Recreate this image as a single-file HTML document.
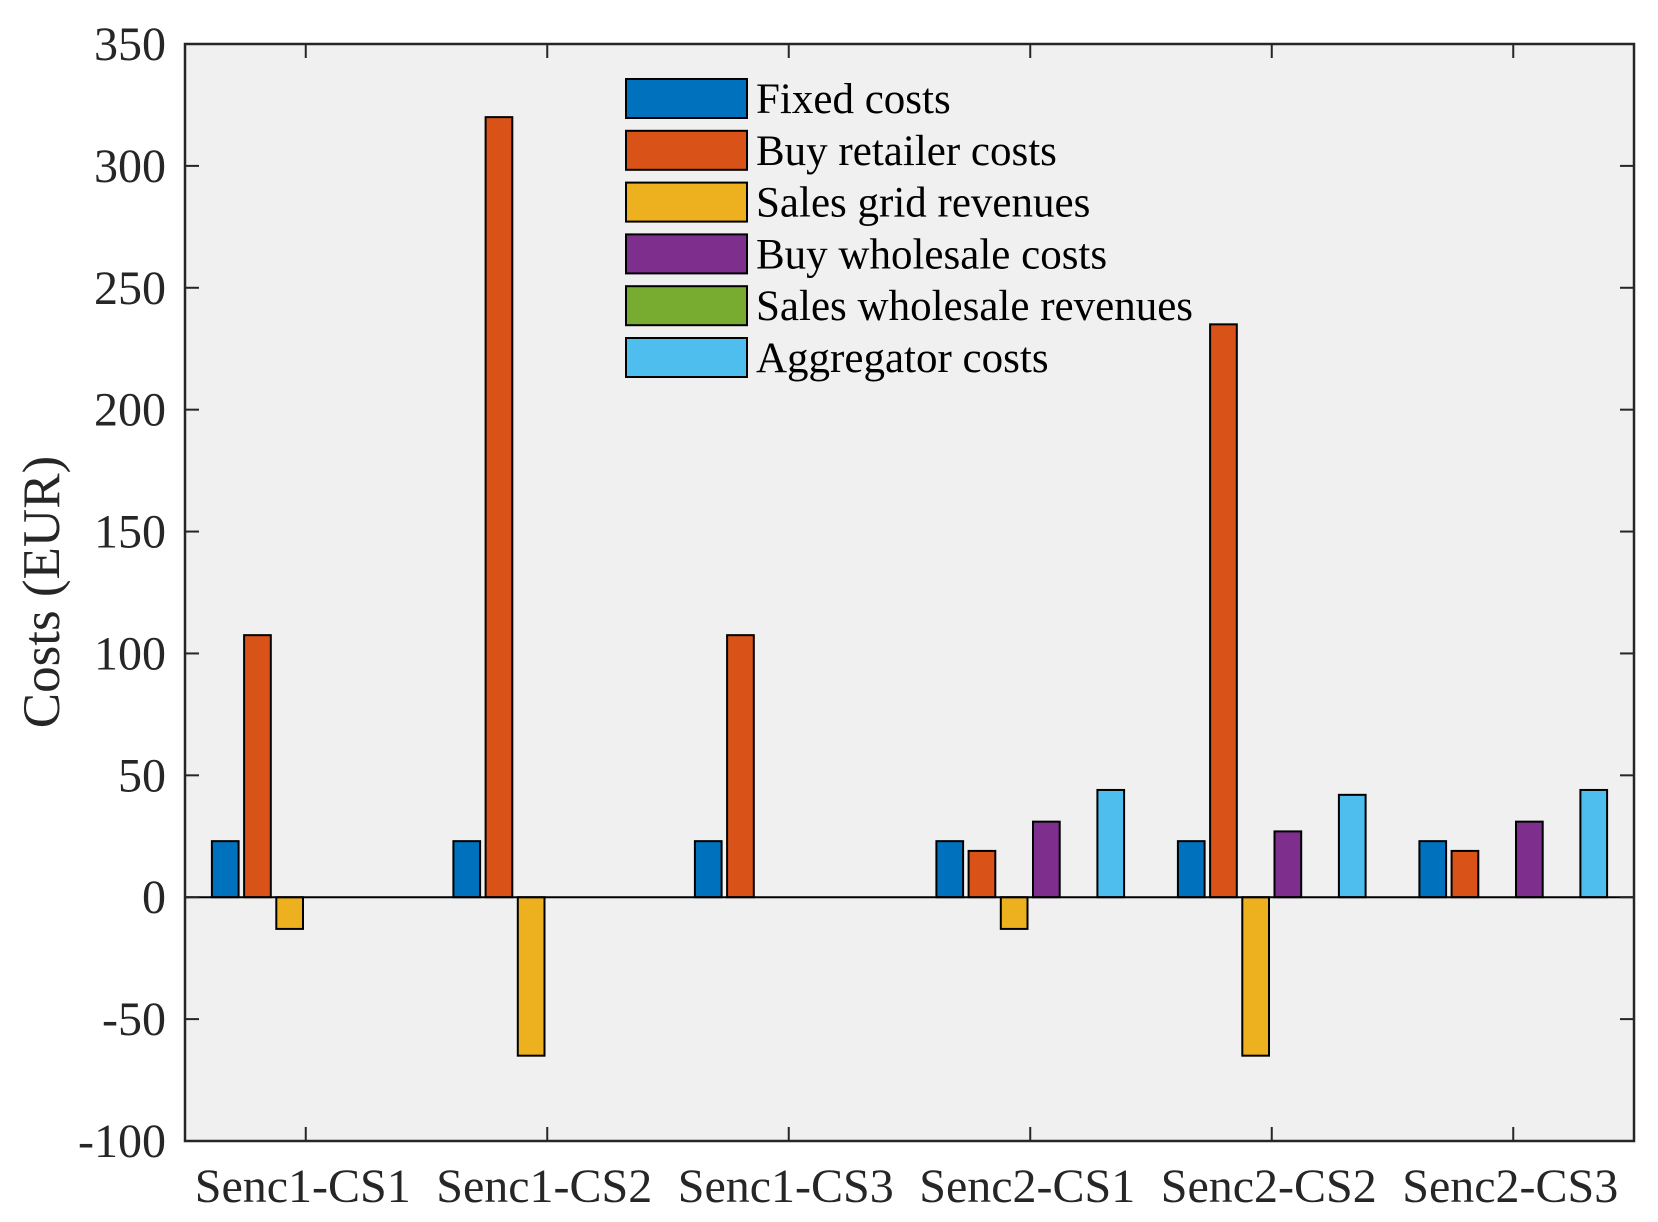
<!DOCTYPE html>
<html><head><meta charset="utf-8"><style>
html,body{margin:0;padding:0;background:#fff}
svg{display:block;font-family:"Liberation Serif",serif}
</style></head><body>
<svg id="chart" width="1658" height="1222" viewBox="0 0 1658 1222" xmlns="http://www.w3.org/2000/svg">
<rect x="185" y="44" width="1449" height="1097" fill="#f0f0f0"/>
<g id="bars"></g>
<g id="axes"></g>
<g id="legend"></g>
<text transform="translate(59,592) rotate(-90)" text-anchor="middle" font-size="53" fill="#262626">Costs (EUR)</text>
</svg>
<script>
const categories = ["Senc1-CS1","Senc1-CS2","Senc1-CS3","Senc2-CS1","Senc2-CS2","Senc2-CS3"];
const seriesNames = ["Fixed costs","Buy retailer costs","Sales grid revenues","Buy wholesale costs","Sales wholesale revenues","Aggregator costs"];
const fixedCosts = [23,23,23,23,23,23];
const buyRetailer = [107.5,320,107.5,19,235,19];
const salesGrid = [-13,-65,0,-13,-65,0];
const buyWholesale = [0,0,0,31,27,31];
const salesWholesale = [0,0,0,0,0,0];
const aggregator = [0,0,0,44,42,44];
const yTicks = [-100,-50,0,50,100,150,200,250,300,350];
const colors = ["#0072bd","#d95319","#edb120","#7e2f8e","#77ac30","#4dbeee"];

const series = [fixedCosts,buyRetailer,salesGrid,buyWholesale,salesWholesale,aggregator];
const NS="http://www.w3.org/2000/svg";
const L=185,R=1634,T=44,B=1141,yMin=-100,yMax=350;
const step=(R-L)/categories.length;
const xc=i=>L+step*(i+0.5);
const y=v=>B-(v-yMin)/(yMax-yMin)*(B-T);
function mk(tag,attrs,parent){const e=document.createElementNS(NS,tag);for(const k in attrs)e.setAttribute(k,attrs[k]);parent.appendChild(e);return e;}
const bars=document.getElementById('bars'),axes=document.getElementById('axes'),leg=document.getElementById('legend');
const bw=26.7,gap=32.2;
series.forEach((s,si)=>{s.forEach((v,ci)=>{
  if(v===0)return;
  const cx=xc(ci)+(si-2.5)*gap;
  const r=mk('rect',{x:cx-bw/2,y:Math.min(y(v),y(0)),width:bw,height:Math.abs(y(v)-y(0)),fill:colors[si],stroke:'#000','stroke-width':2},bars);
  
  
});});
const base=mk('line',{x1:L,x2:R,y1:y(0),y2:y(0),stroke:'#000','stroke-width':2},bars);


yTicks.forEach(t=>{
  const yy=y(t);
  mk('line',{x1:L,x2:L+14,y1:yy,y2:yy,stroke:'#262626','stroke-width':2},axes);
  mk('line',{x1:R,x2:R-14,y1:yy,y2:yy,stroke:'#262626','stroke-width':2},axes);
  const tx=mk('text',{x:166,y:yy+16,'text-anchor':'end','font-size':48,fill:'#262626'},axes);
  tx.textContent=t;
  
  
});
categories.forEach((c,i)=>{
  const xx=xc(i);
  mk('line',{x1:xx,x2:xx,y1:B,y2:B-14,stroke:'#262626','stroke-width':2},axes);
  mk('line',{x1:xx,x2:xx,y1:T,y2:T+14,stroke:'#262626','stroke-width':2},axes);
  const tx=mk('text',{x:xx-3,y:1202,'text-anchor':'middle','font-size':48,fill:'#262626'},axes);
  tx.textContent=c;
  
  
});
const frame=mk('rect',{x:L,y:T,width:R-L,height:B-T,fill:'none',stroke:'#262626','stroke-width':2.5},axes);


seriesNames.forEach((n,i)=>{
  const top=79+i*51.8;
  const g=mk('g',{},leg);
  
  
  mk('rect',{x:626,y:top,width:121,height:39,fill:colors[i],stroke:'#000','stroke-width':2},g);
  const tx=mk('text',{x:756,y:top+34,'font-size':43,fill:'#000'},g);
  tx.textContent=n;
});
</script>
</body></html>
